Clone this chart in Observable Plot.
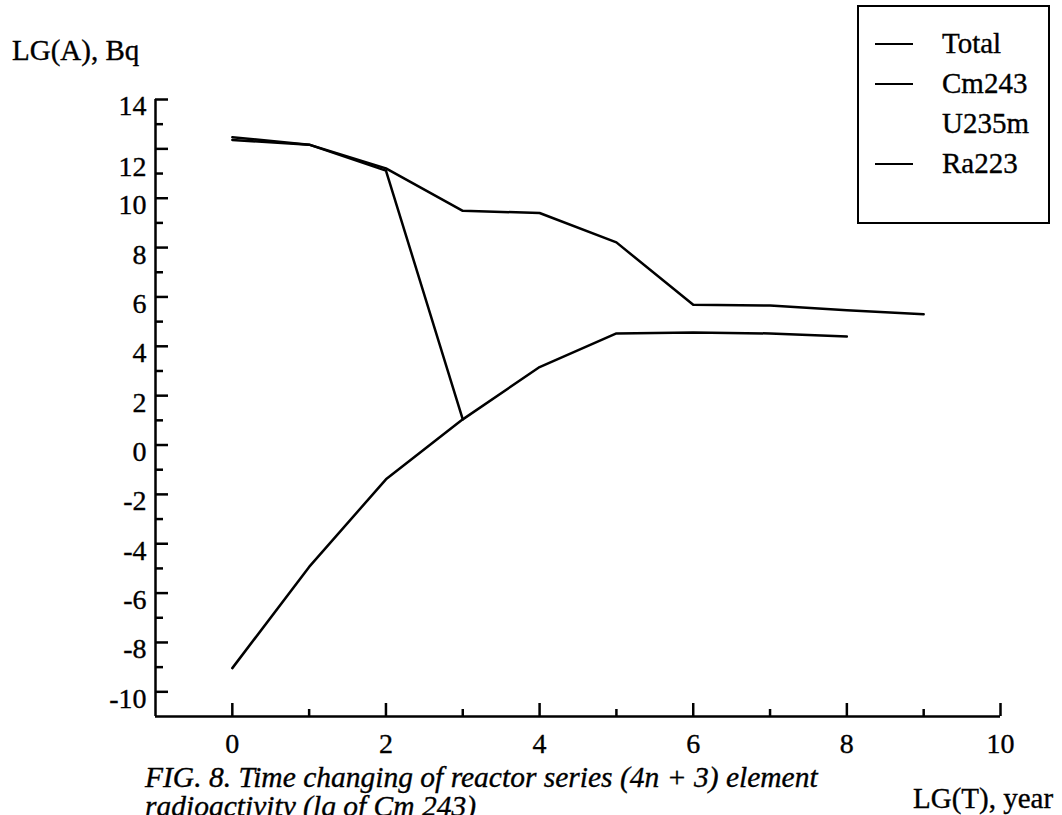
<!DOCTYPE html>
<html>
<head>
<meta charset="utf-8">
<script src="https://cdn.jsdelivr.net/npm/d3@7"></script>
<script src="https://cdn.jsdelivr.net/npm/@observablehq/plot@0.6"></script>
<style>
  html, body { margin: 0; padding: 0; background: #fff; overflow: hidden; }
  #wrap { position: relative; width: 1062px; height: 815px; font-family: "Liberation Serif", "Times New Roman", serif; color: #000; }
  #chart { position: absolute; left: 0; top: 0; }
  #chart svg text { stroke: #000; stroke-width: 0.35px; }
  .abs { position: absolute; white-space: nowrap; line-height: 1; -webkit-text-stroke: 0.35px #000; }
  #ylab { left: 12px; top: 36px; font-size: 29px; }
  #xlab { left: 913px; top: 784px; font-size: 29px; }
  #caption { left: 145px; top: 763px; font-size: 29.5px; font-style: italic; line-height: 29px; }
  #legend { left: 857px; top: 5px; width: 189px; height: 215px; border: 2px solid #000; background: #fff; -webkit-text-stroke: 0; }
  .row { position: absolute; left: 0; height: 30px; width: 189px; }
  .swatch { position: absolute; left: 16px; top: 14px; width: 38px; height: 0; border-top: 2px solid #000; }
  .swatch.none { border-top-color: transparent; }
  .lbl { position: absolute; left: 83px; top: 0px; font-size: 29px; -webkit-text-stroke: 0.35px #000; }
</style>
</head>
<body>
<div id="wrap">
  <div id="chart"></div>
  <div id="ylab" class="abs">LG(A), Bq</div>
  <div id="xlab" class="abs">LG(T), year</div>
  <div id="caption" class="abs">FIG. 8. Time changing of reactor series (4n + 3) element<br>radioactivity (lg of Cm 243)</div>
  <div id="legend" class="abs"></div>
</div>
<script>
// ---- data ----
const seriesNames = ["Total", "Cm243", "U235m", "Ra223"];
const seriesDrawn = [true, true, false, true];

const totalT   = [0, 1, 2, 3, 4, 5, 6, 7, 8, 9];
const totalA   = [12.47, 12.17, 11.21, 9.49, 9.40, 8.21, 5.68, 5.65, 5.46, 5.30];

const cm243T   = [0, 1, 2, 3];
const cm243A   = [12.36, 12.17, 11.12, 1.04];

const ra223T   = [0, 1, 2, 3, 4, 5, 6, 7, 8];
const ra223A   = [-9.04, -4.94, -1.39, 1.04, 3.16, 4.52, 4.56, 4.52, 4.40];

const xMajorTicks = [0, 2, 4, 6, 8, 10];
const xMinorTicks = [1, 3, 5, 7, 9];
const yMajorTicks = [14, 12, 10, 8, 6, 4, 2, 0, -2, -4, -6, -8, -10];
const yMinorTicks = [13, 11, 9, 7, 5, 3, 1, -1, -3, -5, -7, -9];
const xDomain = [-1, 10];
const yDomain = [-11, 14];

// ---- chart ----
const W = 1062, H = 815;
const mL = 155, mR = 62, mT = 99, mB = 99;
const innerW = W - mL - mR, innerH = H - mT - mB;
const sw = 2.5;
const FONT = "'Liberation Serif', 'Times New Roman', serif";

const chart = Plot.plot({
  width: W,
  height: H,
  marginLeft: mL,
  marginRight: mR,
  marginTop: mT,
  marginBottom: mB,
  x: { domain: xDomain },
  y: { domain: yDomain },
  style: { fontFamily: FONT, fontSize: "28px", color: "#000", background: "#fff", overflow: "visible" },
  marks: [
    Plot.ruleX([xDomain[0]], { y1: yDomain[0], y2: yDomain[1], stroke: "#000", strokeWidth: sw }),
    Plot.ruleY([yDomain[0]], { x1: xDomain[0], x2: xDomain[1], stroke: "#000", strokeWidth: sw }),
    Plot.tickY(yMajorTicks, { y: d => d, insetRight: innerW - 13, stroke: "#000", strokeWidth: sw }),
    Plot.tickY(yMinorTicks, { y: d => d, insetRight: innerW - 8, stroke: "#000", strokeWidth: sw }),
    Plot.tickX(xMajorTicks, { x: d => d, insetTop: innerH - 13, stroke: "#000", strokeWidth: sw }),
    Plot.tickX(xMinorTicks, { x: d => d, insetTop: innerH - 7, stroke: "#000", strokeWidth: sw }),
    Plot.axisY(yMajorTicks.filter(d => d !== 12), { tickSize: 0, tickPadding: 9, dy: 7, label: null, fontSize: 28, fontFamily: FONT, tickFormat: d => String(d) }),
    Plot.axisY([12], { tickSize: 0, tickPadding: 9, dy: 18, label: null, fontSize: 28, fontFamily: FONT, tickFormat: d => String(d) }),
    Plot.axisX(xMajorTicks, { tickSize: 0, tickPadding: 17, label: null, fontSize: 28, fontFamily: FONT, tickFormat: d => String(d) }),
    Plot.line(totalT, { x: totalT, y: totalA, stroke: "#000", strokeWidth: sw }),
    Plot.line(cm243T, { x: cm243T, y: cm243A, stroke: "#000", strokeWidth: sw }),
    Plot.line(ra223T, { x: ra223T, y: ra223A, stroke: "#000", strokeWidth: sw })
  ]
});
document.getElementById("chart").appendChild(chart);

// ---- legend ----
const legend = document.getElementById("legend");
const rowTops = [36, 76, 116, 156];
seriesNames.forEach((name, i) => {
  const row = document.createElement("div");
  row.className = "row";
  row.style.top = (rowTops[i] - 14) + "px";
  const s = document.createElement("div");
  s.className = "swatch" + (seriesDrawn[i] ? "" : " none");
  const t = document.createElement("div");
  t.className = "lbl";
  t.textContent = name;
  row.appendChild(s);
  row.appendChild(t);
  legend.appendChild(row);
});
</script>
</body>
</html>
